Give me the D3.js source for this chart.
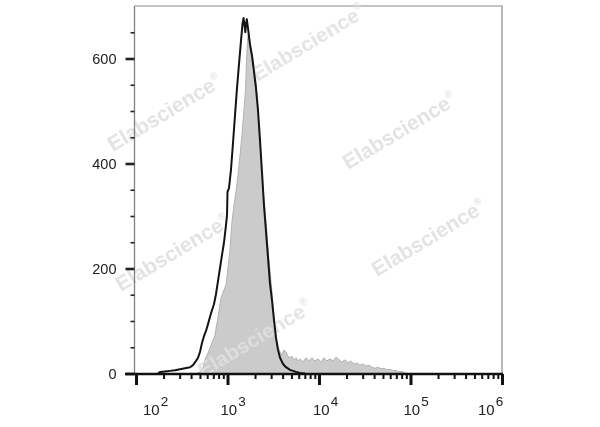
<!DOCTYPE html>
<html><head><meta charset="utf-8">
<script src="https://cdn.jsdelivr.net/npm/d3@7"></script>
<style>body{margin:0;background:#fff;} svg{display:block;font-family:"Liberation Sans",Arial,sans-serif;}</style>
</head><body><svg id="c" width="600" height="427"></svg>
<script>
// ---- data ----
const xTickValues = [1e2, 1e3, 1e4, 1e5, 1e6];
const xTickExponents = ["2", "3", "4", "5", "6"];
const yTickValues = [0, 200, 400, 600];
const yMinorTicks = [50, 100, 150, 250, 300, 350, 450, 500, 550, 650];
const watermarkText = "Elabscience";

// control (black outline) histogram: log10 intensity, event count
const controlLog = [2.240,2.262,2.317,2.372,2.426,2.481,2.536,2.590,2.623,2.656,2.678,2.699,2.721,2.743,2.765,2.787,2.809,2.831,2.852,2.874,2.896,2.918,2.940,2.962,2.984,2.995,3.000,3.016,3.038,3.060,3.082,3.104,3.126,3.148,3.164,3.175,3.186,3.195,3.202,3.211,3.224,3.246,3.268,3.290,3.311,3.333,3.355,3.377,3.399,3.421,3.443,3.464,3.486,3.508,3.530,3.552,3.574,3.607,3.639,3.683,3.716,3.749,3.792,3.847];
const controlCount = [0,3,4,5,6,8,10,12,16,24,30,41,58,71,81,94,108,121,132,151,176,201,226,250,283,302,346,353,388,439,492,544,590,635,666,677,663,650,666,675,658,626,605,574,544,502,445,383,320,270,220,172,140,102,68,45,30,18,12,7,5,3,1,0];

// stained (grey filled) histogram: log10 intensity, event count
const stainedLog = [2.656,2.699,2.732,2.754,2.787,2.820,2.863,2.896,2.929,2.962,2.984,3.005,3.027,3.049,3.071,3.093,3.115,3.137,3.158,3.180,3.197,3.208,3.219,3.230,3.240,3.279,3.311,3.333,3.355,3.377,3.399,3.421,3.443,3.464,3.486,3.508,3.530,3.552,3.574,3.596,3.617,3.639,3.661,3.683,3.705,3.727,3.749,3.770,3.792,3.825,3.858,3.891,3.923,3.956,3.989,4.022,4.055,4.087,4.120,4.153,4.186,4.219,4.251,4.284,4.317,4.350,4.383,4.415,4.448,4.481,4.514,4.546,4.579,4.612,4.645,4.678,4.710,4.743,4.776,4.809,4.842,4.874,4.907,4.940,4.973];
const stainedCount = [0,3,10,26,39,54,73,107,144,159,169,201,235,289,321,346,378,416,454,502,540,597,635,650,640,597,555,502,435,378,330,289,239,197,155,106,68,52,41,35,45,41,33,30,33,26,30,24,28,22,30,24,30,24,28,22,30,24,28,24,31,26,22,26,20,24,18,20,16,18,14,16,12,10,12,9,10,7,8,5,6,3,4,1,0];

// ---- layout / style ----
const svg = d3.select("#c");
const x = d3.scaleLog().domain([1e2, 1e6]).range([136, 502]);
const y = d3.scaleLinear().domain([0, 700]).range([373.5, 6]);
const labelNudge = [7, -7, -6, -7, -24];

const control = controlLog.map((e, i) => ({v: Math.pow(10, e), c: controlCount[i]}));
const stained = stainedLog.map((e, i) => ({v: Math.pow(10, e), c: stainedCount[i]}));

// frame (top / right, grey)
svg.append("path")
  .attr("d", `M${x.range()[0] - 1.5},${y(700)}H${x(1e6)}V${y(0)}`)
  .attr("fill", "none").attr("stroke", "#8a8a8a").attr("stroke-width", 1.2);

// stained area
const area = d3.area().x(d => x(d.v)).y0(y(0)).y1(d => y(d.c));
svg.append("path").datum(stained).attr("d", area)
  .attr("fill", "#cbcbcb").attr("stroke", "#b2b2b2").attr("stroke-width", 1);

// watermarks
const wm = [[113,152],[257,82],[348,170],[377,277],[121,292],[203,378]];
const wg = svg.append("g").attr("font-weight", "bold").attr("font-size", 21)
  .attr("fill", "#e0e0e0").attr("opacity", 0.9);
wm.forEach(p => {
  const t = wg.append("text").attr("transform", `translate(${p[0]},${p[1]}) rotate(-31)`);
  t.append("tspan").text(watermarkText);
  t.append("tspan").attr("font-size", 10).attr("dy", -10).text("®");
});

// control line
const line = d3.line().x(d => x(d.v)).y(d => y(d.c));
svg.append("path").datum(control).attr("d", line)
  .attr("fill", "none").attr("stroke", "#141414").attr("stroke-width", 2)
  .attr("stroke-linejoin", "round");

// y axis
const yAxisG = svg.append("g").attr("transform", "translate(134.5,0)");
yAxisG.append("line").attr("x1", 0).attr("x2", 0).attr("y1", y(700)).attr("y2", y(0))
  .attr("stroke", "#808080").attr("stroke-width", 1.3);
const yMaj = yAxisG.append("g").call(d3.axisLeft(y).tickValues(yTickValues).tickSize(9).tickPadding(9));
yMaj.select(".domain").remove();
yMaj.selectAll("line").attr("stroke", "#222").attr("stroke-width", 2.6);
yMaj.selectAll("text").attr("font-size", 14.5).attr("fill", "#222")
  .attr("font-family", "'Liberation Sans',Arial,sans-serif");
const yMin = yAxisG.append("g").call(d3.axisLeft(y).tickValues(yMinorTicks).tickSize(4).tickFormat(""));
yMin.select(".domain").remove();
yMin.selectAll("line").attr("stroke", "#222").attr("stroke-width", 1.6);

// x axis
const xAxisG = svg.append("g").attr("transform", "translate(0,374)");
xAxisG.append("line").attr("x1", 125).attr("x2", 503).attr("y1", 0).attr("y2", 0)
  .attr("stroke", "#111").attr("stroke-width", 2.6);
const minorX = x.ticks().filter(v => !xTickValues.includes(v));
const xMin = xAxisG.append("g").call(d3.axisBottom(x).tickValues(minorX).tickSize(5).tickFormat(""));
xMin.select(".domain").remove();
xMin.selectAll("line").attr("stroke", "#111").attr("stroke-width", 2);
const xMaj = xAxisG.append("g").call(d3.axisBottom(x).tickValues(xTickValues).tickSize(11).tickFormat(""));
xMaj.select(".domain").remove();
xMaj.selectAll("line").attr("stroke", "#111").attr("stroke-width", 3);

// x tick labels 10^n
const lg = svg.append("g").attr("fill", "#222");
xTickValues.forEach((v, i) => {
  const t = lg.append("text").attr("x", x(v) + labelNudge[i]).attr("y", 415).attr("font-size", 15);
  t.append("tspan").text("10");
  t.append("tspan").attr("dy", -9).attr("dx", 1).attr("font-size", 13.5).text(xTickExponents[i]);
});
</script></body></html>
